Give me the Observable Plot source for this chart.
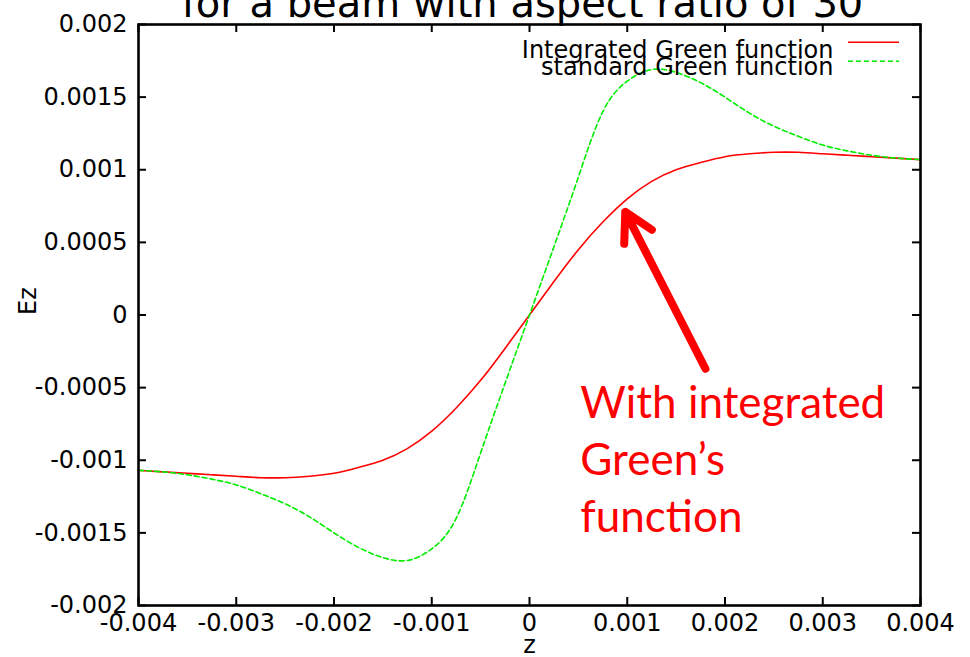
<!DOCTYPE html>
<html>
<head>
<meta charset="utf-8">
<script src="https://cdn.jsdelivr.net/npm/d3@7"></script>
<script src="https://cdn.jsdelivr.net/npm/@observablehq/plot@0.6"></script>
<style>
  html, body { margin: 0; padding: 0; background: #fff; }
  #chart { position: relative; width: 970px; height: 657px; overflow: hidden; }
</style>
</head>
<body>
<div id="chart"></div>
<script>
// Longitudinal field Ez along z, two Green-function solvers
const zValues = [
  -0.004, -0.00375, -0.0035, -0.00325, -0.003, -0.00275, -0.0025, -0.00225,
  -0.002, -0.00175, -0.0015, -0.00125, -0.001, -0.00075, -0.0005, -0.00025,
  0,
  0.00025, 0.0005, 0.00075, 0.001, 0.00125, 0.0015, 0.00175,
  0.002, 0.00225, 0.0025, 0.00275, 0.003, 0.00325, 0.0035, 0.00375, 0.004
];
const ezIntegrated = [
  -0.00107, -0.00108, -0.00109, -0.00110, -0.00111, -0.00112, -0.00112, -0.00111,
  -0.00109, -0.00105, -0.00100, -0.00092, -0.00080, -0.00064, -0.00045, -0.00023,
  0,
  0.00023, 0.00045, 0.00064, 0.00080, 0.00092, 0.00100, 0.00105,
  0.00109, 0.00111, 0.00112, 0.00112, 0.00111, 0.00110, 0.00109, 0.00108, 0.00107
];
const ezStandard = [
  -0.00107, -0.00108, -0.00110, -0.00113, -0.00117, -0.00123, -0.00130, -0.00139,
  -0.00150, -0.00160, -0.00167, -0.00169, -0.00161, -0.00140, -0.00095, -0.00047,
  0,
  0.00047, 0.00095, 0.00140, 0.00161, 0.00169, 0.00167, 0.00160,
  0.00150, 0.00139, 0.00130, 0.00123, 0.00117, 0.00113, 0.00110, 0.00108, 0.00107
];

const xTicks = [-0.004, -0.003, -0.002, -0.001, 0, 0.001, 0.002, 0.003, 0.004];
const xTickLabels = ["-0.004", "-0.003", "-0.002", "-0.001", "0", "0.001", "0.002", "0.003", "0.004"];
const yTicks = [-0.002, -0.0015, -0.001, -0.0005, 0, 0.0005, 0.001, 0.0015, 0.002];
const yTickLabels = ["-0.002", "-0.0015", "-0.001", "-0.0005", "0", "0.0005", "0.001", "0.0015", "0.002"];

const seriesNames = ["Integrated Green function", "standard Green function"];
const seriesColors = ["#ff0000", "#00ee00"];
const titleText = "for a beam with aspect ratio of 30";
const xLabel = "z";
const yLabel = "Ez";

// callout pointing at the integrated curve
const noteText = "With integrated\nGreen\u2019s\nfunction";
const noteAt = [0.00052, -0.00043];
const arrowFrom = [0.00180, -0.00037];
const arrowTo = [0.00098, 0.00071];

const integrated = zValues.map((z, i) => ({z, ez: ezIntegrated[i]}));
const standard = zValues.map((z, i) => ({z, ez: ezStandard[i]}));

const W = 970, H = 657;
const M = {top: 24, right: 50, bottom: 52, left: 138};
const innerW = W - M.left - M.right;
const innerH = H - M.top - M.bottom;
const font = "DejaVu Sans";
const tickLen = 8;

const chart = Plot.plot({
  width: W,
  height: H,
  marginTop: M.top,
  marginRight: M.right,
  marginBottom: M.bottom,
  marginLeft: M.left,
  style: {fontFamily: font, fontSize: "24px", color: "#000", background: "#fff", overflow: "visible"},
  x: {domain: [-0.004, 0.004]},
  y: {domain: [-0.002, 0.002]},
  marks: [
    Plot.line(integrated, {x: "z", y: "ez", stroke: seriesColors[0], strokeWidth: 1.6, curve: "natural"}),
    Plot.line(standard, {x: "z", y: "ez", stroke: seriesColors[1], strokeWidth: 1.6, strokeDasharray: "5,3", curve: "natural"}),

    // inward tick marks on all four sides
    Plot.tickX(xTicks, {x: d => d, stroke: "#000", strokeWidth: 2, insetTop: innerH - tickLen}),
    Plot.tickX(xTicks, {x: d => d, stroke: "#000", strokeWidth: 2, insetBottom: innerH - tickLen}),
    Plot.tickY(yTicks, {y: d => d, stroke: "#000", strokeWidth: 2, insetRight: innerW - tickLen}),
    Plot.tickY(yTicks, {y: d => d, stroke: "#000", strokeWidth: 2, insetLeft: innerW - tickLen}),
    Plot.frame({stroke: "#000", strokeWidth: 2.6}),

    Plot.axisX({ticks: xTicks, tickFormat: d => xTickLabels[xTicks.indexOf(d)], tickSize: 0, tickPadding: 8, label: null, fontSize: 24}),
    Plot.axisY({ticks: yTicks, tickFormat: d => yTickLabels[yTicks.indexOf(d)], tickSize: 0, tickPadding: 11, label: null, fontSize: 24}),

    Plot.text([yLabel], {frameAnchor: "left", dx: -110, rotate: -90, fontSize: 24, fill: "#000"}),
    Plot.text([xLabel], {frameAnchor: "bottom", dy: 47, fontSize: 24, fill: "#000"}),
    Plot.text([titleText], {frameAnchor: "top", dx: -7, dy: -36, fontSize: 40, fill: "#000"}),

    // legend entries
    Plot.text([seriesNames[0]], {frameAnchor: "top-right", textAnchor: "end", dx: -87, dy: 16.6, fontSize: 24, fill: "#000"}),
    Plot.text([seriesNames[1]], {frameAnchor: "top-right", textAnchor: "end", dx: -87, dy: 33.3, fontSize: 24, fill: "#000"}),

    Plot.arrow([{x1: arrowFrom[0], y1: arrowFrom[1], x2: arrowTo[0], y2: arrowTo[1]}], {
      x1: "x1", y1: "y1", x2: "x2", y2: "y2",
      stroke: "#ff0000", strokeWidth: 8, headLength: 6, headAngle: 58, strokeLinecap: "round"
    }),
    Plot.text([noteAt], {
      x: d => d[0], y: d => d[1], text: () => noteText,
      textAnchor: "start", lineAnchor: "top", lineHeight: 1.3,
      fontFamily: "Lato", fontSize: 44, fill: "#ff0000"
    })
  ]
});

// legend line samples, placed inside the frame's top-right corner
const svg = d3.select(chart);
const right = W - M.right;
const samples = [
  {y: M.top + 18.3, color: seriesColors[0], dash: null},
  {y: M.top + 37.3, color: seriesColors[1], dash: "5,3"}
];
for (const s of samples) {
  svg.append("line")
    .attr("x1", right - 72).attr("x2", right - 21)
    .attr("y1", s.y).attr("y2", s.y)
    .attr("stroke", s.color).attr("stroke-width", 1.6)
    .attr("stroke-dasharray", s.dash);
}

document.getElementById("chart").appendChild(chart);
</script>
</body>
</html>
